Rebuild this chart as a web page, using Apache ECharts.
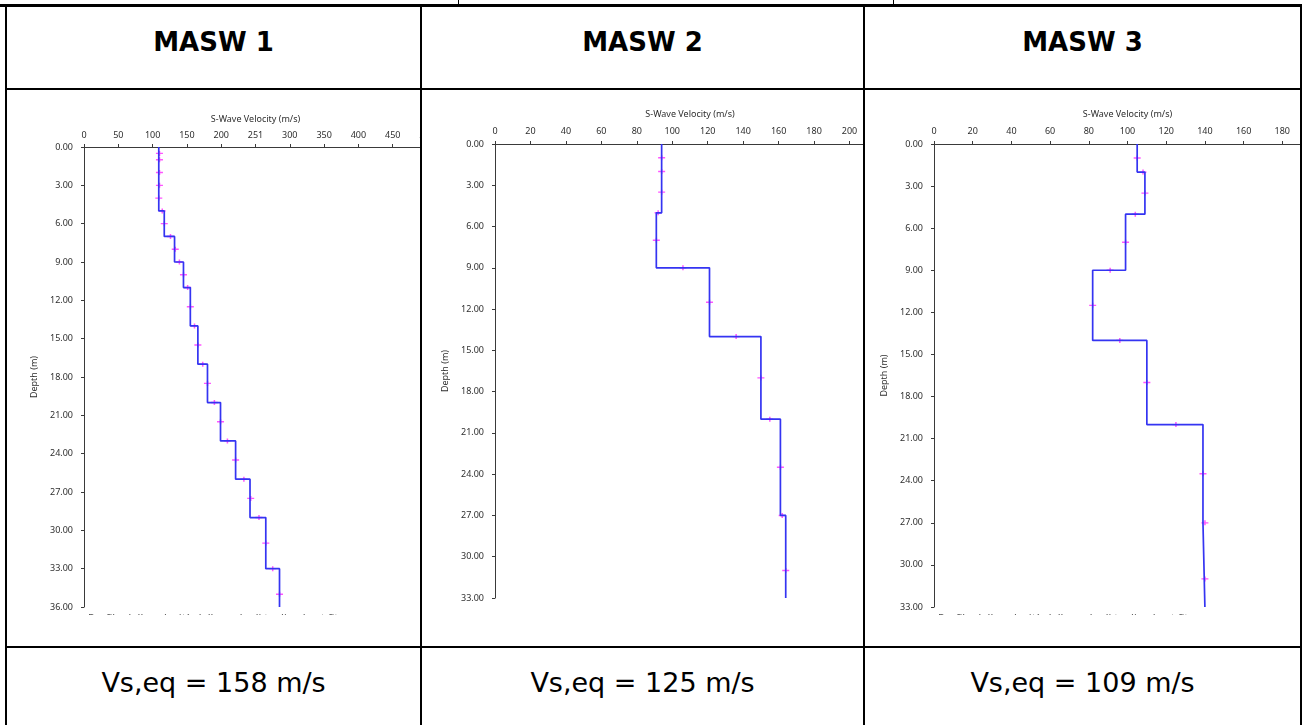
<!DOCTYPE html>
<html>
<head>
<meta charset="utf-8">
<script src="https://cdn.jsdelivr.net/npm/echarts@6/dist/echarts.min.js"></script>
<style>
  body { margin: 0; background: #fff; }
  #page { position: relative; width: 1302px; height: 725px; overflow: hidden; font-family: "DejaVu Sans", Verdana, sans-serif; }
  .ln { position: absolute; background: #000; }
  .hd { position: absolute; top: 22px; height: 40px; line-height: 40px; text-align: center; font-weight: bold; font-size: 26px; }
  .ft { position: absolute; top: 663px; height: 40px; line-height: 40px; text-align: center; font-size: 27px; }
  .clip { position: absolute; top: 90px; height: 525px; overflow: hidden; background: #fff; }
  .chart { position: absolute; left: 0; top: 0; width: 640px; height: 525px; }
</style>
</head>
<body>
<div id="page">
  <div class="ln" style="left:458px;top:0;width:1px;height:5px"></div>
  <div class="ln" style="left:893px;top:0;width:1px;height:5px"></div>
  <div class="ln" style="left:0;top:4px;width:1302px;height:3px"></div>
  <div class="ln" style="left:5px;top:4px;width:2px;height:721px"></div>
  <div class="ln" style="left:420px;top:4px;width:2px;height:721px"></div>
  <div class="ln" style="left:863px;top:4px;width:2px;height:721px"></div>
  <div class="ln" style="left:1300px;top:4px;width:2px;height:721px"></div>
  <div class="ln" style="left:5px;top:88px;width:1297px;height:2px"></div>
  <div class="ln" style="left:5px;top:646px;width:1297px;height:2px"></div>

  <div class="hd" id="h1" style="left:7px;width:413px"></div>
  <div class="hd" id="h2" style="left:422px;width:441px"></div>
  <div class="hd" id="h3" style="left:865px;width:435px"></div>

  <div class="clip" style="left:8px;width:412px"><div class="chart" id="c1"></div></div>
  <div class="clip" style="left:422px;width:441px"><div class="chart" id="c2"></div></div>
  <div class="clip" style="left:865px;width:435px"><div class="chart" id="c3"></div></div>

  <div class="ft" id="f1" style="left:7px;width:413px"></div>
  <div class="ft" id="f2" style="left:422px;width:441px"></div>
  <div class="ft" id="f3" style="left:865px;width:435px"></div>
</div>
<script>
// profile names and equivalent velocities
const titles = ["MASW 1", "MASW 2", "MASW 3"];
const vsEq = [158, 125, 109];

// MASW 1: layer boundaries (m) and S-wave velocity of each layer (m/s)
const masw1Depths = [0, 5, 7, 9, 11, 14, 17, 20, 23, 26, 29, 33, 36];
const masw1Vs = [109, 117, 132, 145, 155, 166, 180, 199, 221, 242, 265, 285];
const masw1Marks = [[110, 0.5], [110, 1], [110, 2], [110, 3], [109, 4], [114, 5], [117, 6], [126, 7], [133, 8], [139, 9],
  [145, 10], [151, 11], [155, 12.5], [161, 14], [166, 15.5], [173, 17], [180, 18.5], [190, 20], [199, 21.5], [209, 23],
  [221, 24.5], [233, 26], [243, 27.5], [255, 29], [265, 31], [275, 33], [285, 35]];
const masw1VelLabels = ["0", "50", "100", "150", "200", "251", "300", "350", "400", "450", "500"];

// MASW 2
const masw2Depths = [0, 5, 9, 14, 20, 27, 33];
const masw2Vs = [94, 91, 121, 150, 161, 164];
const masw2Marks = [[94, 1], [94, 2], [94, 3.5], [92, 5], [91, 7], [106, 9], [121, 11.5], [136, 14], [150, 17],
  [155, 20], [161, 23.5], [162, 27], [164, 31]];
const masw2VelLabels = ["0", "20", "40", "60", "80", "100", "120", "140", "160", "180", "200", "220"];

// MASW 3
const masw3Depths = [0, 2, 5, 9, 14, 20, 27, 33];
const masw3Vs = [105, 109, 99, 82, 110, 139, 140];
const masw3Marks = [[105, 1], [108, 2], [109, 3.5], [104, 5], [99, 7], [91, 9], [82, 11.5], [96, 14], [110, 17],
  [125, 20], [139, 23.5], [140, 27], [140, 31]];
const masw3VelLabels = ["0", "20", "40", "60", "80", "100", "120", "140", "160", "180", "200"];

const caption = "Profilo della velocità delle onde di taglio - best fit";

titles.forEach((t, i) => {
  document.getElementById("h" + (i + 1)).textContent = t;
  document.getElementById("f" + (i + 1)).textContent = "Vs,eq = " + vsEq[i] + " m/s";
});

const axisColor = "#3a3a3a";
const labelFont = { fontFamily: "Noto Sans", fontSize: 9, color: "#2e2e2e" };

function stepLine(depths, vs) {
  const pts = [];
  vs.forEach((v, i) => {
    pts.push([v, depths[i]]);
    pts.push([v, depths[i + 1]]);
  });
  return pts;
}

function makeChart(id, cfg) {
  const chart = echarts.init(document.getElementById(id), null, { renderer: "canvas" });
  const step = cfg.velMax / (cfg.velLabels.length - 1);
  const opt = {
    animation: false,
    backgroundColor: "#fff",
    grid: { left: cfg.left, top: cfg.top, width: cfg.width, height: cfg.height },
    xAxis: {
      type: "value", position: "top", min: 0, max: cfg.velMax, interval: step,
      name: "S-Wave Velocity (m/s)", nameLocation: "middle", nameGap: cfg.nameGapX,
      nameTextStyle: labelFont,
      axisLine: { lineStyle: { color: axisColor, width: 1 } },
      axisTick: { length: 3, lineStyle: { color: axisColor } },
      axisLabel: Object.assign({ margin: cfg.marginX, showMaxLabel: true, hideOverlap: false,
        formatter: (v) => cfg.velLabels[Math.round(v / step)] }, labelFont),
      splitLine: { show: false }
    },
    yAxis: {
      type: "value", inverse: true, min: 0, max: cfg.depthMax, interval: 3,
      name: "Depth (m)", nameLocation: "middle", nameGap: cfg.nameGapY,
      nameTextStyle: labelFont,
      axisLine: { lineStyle: { color: axisColor, width: 1 } },
      axisTick: { length: 3, lineStyle: { color: axisColor } },
      axisLabel: Object.assign({ margin: 11, formatter: (v) => v.toFixed(2) }, labelFont),
      splitLine: { show: false }
    },
    series: [
      {
        type: "line", data: stepLine(cfg.depths, cfg.vs), showSymbol: false, clip: false,
        lineStyle: { color: "#3434f2", width: 1.7 }
      },
      {
        type: "scatter", data: cfg.marks,
        symbol: "path://M0,2h7v1.5h-7z M2.8,0h1.5v5.5h-1.5z", symbolSize: [7, 5],
        itemStyle: { color: "#ff2bff" }
      }
    ],
    graphic: cfg.caption ? [{
      type: "text", left: cfg.left + 4, top: 523,
      style: { text: caption, fill: "#555", font: "11px 'Noto Sans'" }
    }] : []
  };
  chart.setOption(opt);
}

makeChart("c1", { depths: masw1Depths, vs: masw1Vs, marks: masw1Marks, velLabels: masw1VelLabels, velMax: 500,
  depthMax: 36, left: 76, top: 57, width: 343, height: 460, nameGapX: 23, marginX: 7, nameGapY: 28, caption: true });
makeChart("c2", { depths: masw2Depths, vs: masw2Vs, marks: masw2Marks, velLabels: masw2VelLabels, velMax: 220,
  depthMax: 33, left: 73, top: 54, width: 390, height: 454, nameGapX: 25, marginX: 8, nameGapY: 33, caption: false });
makeChart("c3", { depths: masw3Depths, vs: masw3Vs, marks: masw3Marks, velLabels: masw3VelLabels, velMax: 200,
  depthMax: 33, left: 69, top: 54, width: 387, height: 463, nameGapX: 25, marginX: 8, nameGapY: 34, caption: true });
</script>
</body>
</html>
